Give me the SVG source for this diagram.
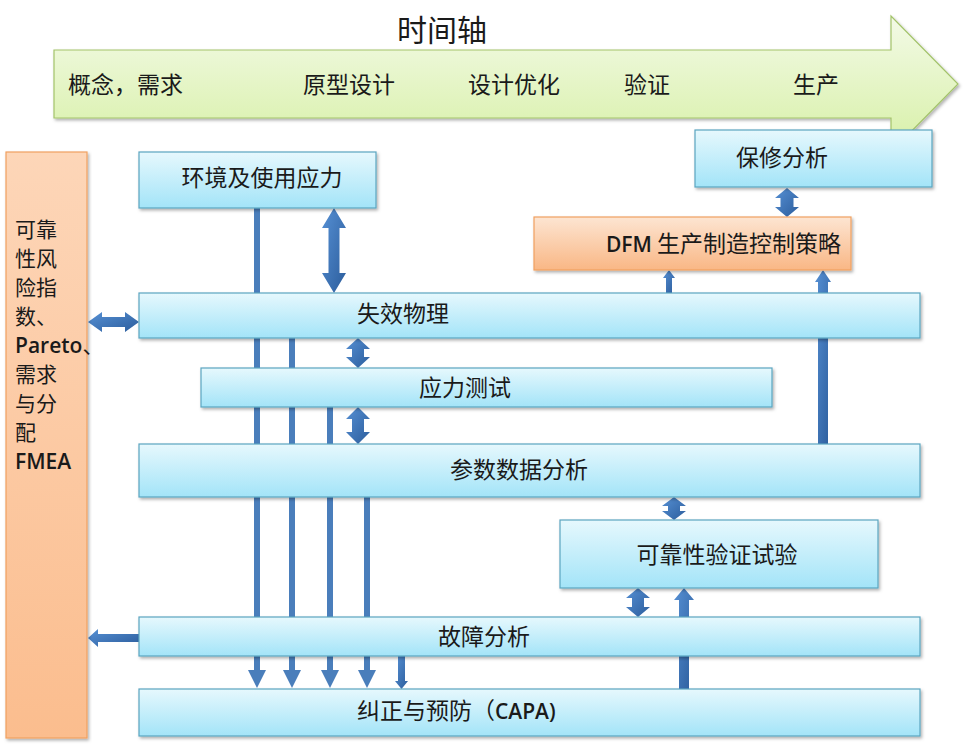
<svg xmlns="http://www.w3.org/2000/svg" width="964" height="744" viewBox="0 0 964 744">
<defs>
<linearGradient id="gBlue" x1="0" y1="0" x2="0" y2="1"><stop offset="0" stop-color="#e6f8fd"/><stop offset="1" stop-color="#a3e4f8"/></linearGradient>
<linearGradient id="gOrange" x1="0" y1="0" x2="0" y2="1"><stop offset="0" stop-color="#fde5d2"/><stop offset="1" stop-color="#f9b785"/></linearGradient>
<linearGradient id="gPanel" x1="0" y1="0" x2="0" y2="1"><stop offset="0" stop-color="#fdd6b8"/><stop offset="1" stop-color="#fbbd8e"/></linearGradient>
<linearGradient id="gGreen" x1="0" y1="0" x2="0" y2="1"><stop offset="0" stop-color="#f3fae7"/><stop offset="1" stop-color="#d7f0a6"/></linearGradient>
<linearGradient id="gArrow" x1="0" y1="0" x2="1" y2="1"><stop offset="0" stop-color="#5690d4"/><stop offset="1" stop-color="#2c5d9c"/></linearGradient>
<filter id="sh" x="-5%" y="-10%" width="110%" height="130%"><feDropShadow dx="1.5" dy="2" stdDeviation="1.5" flood-color="#000" flood-opacity="0.3"/></filter>
</defs>
<style>
.box{fill:url(#gBlue);stroke:#5aa5c0;stroke-width:1.2;filter:url(#sh)}
.obox{fill:url(#gOrange);stroke:#f0a060;stroke-width:1.2;filter:url(#sh)}
.t{font-family:"Noto Sans CJK SC","Noto Sans CJK JP",sans-serif;font-size:23px;fill:#1a1a1a}
.p{font-size:21px}
.lat{font-family:"Open Sans","Liberation Sans",sans-serif;font-size:21px;font-weight:600}
.ln{fill:#4a7ebb}
.ar{fill:url(#gArrow)}
</style>
<g id="timeline">
<path d="M54,50 H891 V16 L958,84 L891,152 V118 H54 Z" fill="url(#gGreen)" stroke="#a3c36a" stroke-width="1.2" filter="url(#sh)"/>
<text class="t" x="442" y="41" text-anchor="middle" style="font-size:30px">时间轴</text>
<text class="t" x="68" y="93">概念，需求</text>
<text class="t" x="303" y="93">原型设计</text>
<text class="t" x="468" y="93">设计优化</text>
<text class="t" x="624" y="93">验证</text>
<text class="t" x="793" y="93">生产</text>
</g>
<g id="connectors">
<path class="ln" d="M254,208 H260 V670 H266 L257,688 L248,670 H254 Z"/>
<path class="ln" d="M289,338 H295 V670 H301 L292,688 L283,670 H289 Z"/>
<path class="ln" d="M327,407 H333 V670 H339 L330,688 L321,670 H327 Z"/>
<path class="ln" d="M364,497 H370 V670 H376 L367,688 L358,670 H364 Z"/>
<path class="ar" d="M398,656 H405 V681 H408 L401.5,689 L395,681 H398 Z"/>
<path class="ar" d="M334,208 L346,228 L339.5,228 L339.5,273 L346,273 L334,293 L322,273 L328.5,273 L328.5,228 L322,228 Z"/>
<path class="ar" d="M787,188 L799,198 L793.5,198 L793.5,207 L799,207 L787,217 L775,207 L780.5,207 L780.5,198 L775,198 Z"/>
<path class="ar" d="M358,338 L370,349 L364,349 L364,357 L370,357 L358,368 L346,357 L352,357 L352,349 L346,349 Z"/>
<path class="ar" d="M358,407 L370,419 L364,419 L364,432 L370,432 L358,444 L346,432 L352,432 L352,419 L346,419 Z"/>
<path class="ar" d="M674,497 L686,506 L680,506 L680,511 L686,511 L674,520 L662,511 L668,511 L668,506 L662,506 Z"/>
<path class="ar" d="M638,588 L650,598 L644,598 L644,607 L650,607 L638,617 L626,607 L632,607 L632,598 L626,598 Z"/>
<path class="ar" d="M684,588 L694,600 L689,600 L689,689 L679,689 L679,600 L674,600 Z"/>
<path class="ar" d="M823,270 L831,282 L828,282 L828,444 L818,444 L818,282 L815,282 Z"/>
<path class="ar" d="M669,270 L675,278 L672,278 L672,293 L666,293 L666,278 L663,278 Z"/>
<path class="ar" d="M88,322 L102,312 L102,317 L125,317 L125,312 L139,322 L125,332 L125,327 L102,327 L102,332 Z"/>
<path class="ar" d="M88,638 L98,629 L98,634 L139,634 L139,642 L98,642 L98,647 Z"/>
</g>
<g id="panel">
<rect x="6" y="152" width="81" height="586" fill="url(#gPanel)" stroke="#f0a060" stroke-width="1.2" filter="url(#sh)"/>
<text class="t p" x="15" y="237">可靠</text>
<text class="t p" x="15" y="266">性风</text>
<text class="t p" x="15" y="295">险指</text>
<text class="t p" x="15" y="324">数、</text>
<text class="t p" x="15" y="353"><tspan class="lat">Pareto</tspan>、</text>
<text class="t p" x="15" y="382">需求</text>
<text class="t p" x="15" y="411">与分</text>
<text class="t p" x="15" y="440">配</text>
<text class="t p" x="15" y="469"><tspan class="lat">FMEA</tspan></text>
</g>
<g id="env"><rect class="box" x="139" y="152" width="237" height="56"/><text class="t" x="262" y="186" text-anchor="middle">环境及使用应力</text></g>
<g id="warranty"><rect class="box" x="695" y="130" width="237" height="57"/><text class="t" x="782" y="166" text-anchor="middle">保修分析</text></g>
<g id="dfm"><rect class="obox" x="534" y="217" width="317" height="53"/><text class="t" x="841" y="252" text-anchor="end"><tspan class="lat">DFM</tspan> 生产制造控制策略</text></g>
<g id="pof"><rect class="box" x="139" y="293" width="781" height="45"/><text class="t" x="403" y="322" text-anchor="middle">失效物理</text></g>
<g id="stress"><rect class="box" x="201" y="368" width="571" height="39"/><text class="t" x="465" y="396" text-anchor="middle">应力测试</text></g>
<g id="param"><rect class="box" x="139" y="444" width="781" height="53"/><text class="t" x="519" y="478" text-anchor="middle">参数数据分析</text></g>
<g id="rdv"><rect class="box" x="560" y="520" width="318" height="68"/><text class="t" x="717" y="563" text-anchor="middle">可靠性验证试验</text></g>
<g id="fa"><rect class="box" x="139" y="617" width="781" height="39"/><text class="t" x="484" y="645" text-anchor="middle">故障分析</text></g>
<g id="capa"><rect class="box" x="139" y="689" width="781" height="47"/><text class="t" x="357" y="719">纠正与预防（<tspan class="lat">CAPA)</tspan></text></g>
</svg>
